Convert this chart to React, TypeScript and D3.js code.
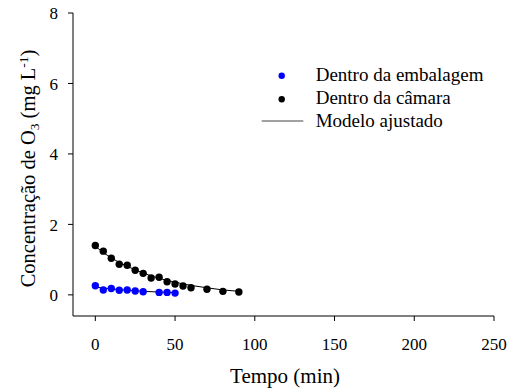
import React from "react";
import * as d3 from "d3";

const tempoCamara = [0, 5, 10, 15, 20, 25, 30, 35, 40, 45, 50, 55, 60, 70, 80, 90];
const o3Camara = [1.4, 1.24, 1.04, 0.87, 0.84, 0.7, 0.61, 0.48, 0.5, 0.37, 0.31, 0.25, 0.2, 0.16, 0.1, 0.08];

const tempoEmbalagem = [0, 5, 10, 15, 20, 25, 30, 40, 45, 50];
const o3Embalagem = [0.26, 0.14, 0.18, 0.13, 0.14, 0.11, 0.09, 0.07, 0.07, 0.05];

const modeloCamaraT = [0, 5, 10, 15, 20, 25, 30, 35, 40, 45, 50, 55, 60, 70, 80, 90];
const modeloCamaraY = [1.38, 1.2, 1.05, 0.92, 0.81, 0.71, 0.62, 0.54, 0.47, 0.41, 0.36, 0.31, 0.27, 0.2, 0.14, 0.1];

const modeloEmbT = [0, 10, 20, 30, 40, 50];
const modeloEmbY = [0.22, 0.17, 0.13, 0.1, 0.08, 0.06];

const xTicks = [0, 50, 100, 150, 200, 250];
const yTicks = [0, 2, 4, 6, 8];

const legendLabels = ["Dentro da embalagem", "Dentro da câmara", "Modelo ajustado"];

const ts = { fontFamily: "'Times New Roman', 'Liberation Serif', serif" };

export default function App() {
  const x = d3.scaleLinear().domain([-14, 250]).range([73, 494]);
  const y = d3.scaleLinear().domain([-0.6, 8]).range([316, 13]);
  const line = d3
    .line<[number, number]>()
    .x((d) => x(d[0]))
    .y((d) => y(d[1]));

  const camaraModel = modeloCamaraT.map((t, i) => [t, modeloCamaraY[i]] as [number, number]);
  const embModel = modeloEmbT.map((t, i) => [t, modeloEmbY[i]] as [number, number]);

  const [xMin, xMax] = x.range();
  const [yBottom, yTop] = y.range();

  return (
    <svg width={510} height={391} style={{ position: "absolute", left: 0, top: 0, background: "#fff" }}>
      <line x1={xMin} x2={xMin} y1={yTop} y2={yBottom} stroke="#000" strokeWidth={1} />
      <line x1={xMin} x2={xMax} y1={yBottom} y2={yBottom} stroke="#000" strokeWidth={1} />
      {yTicks.map((t) => (
        <g key={"y" + t}>
          <line x1={xMin - 5} x2={xMin} y1={y(t)} y2={y(t)} stroke="#000" />
          <text x={58} y={y(t)} dy="0.36em" textAnchor="end" fontSize={17} style={ts}>
            {t}
          </text>
        </g>
      ))}
      {xTicks.map((t) => (
        <g key={"x" + t}>
          <line x1={x(t)} x2={x(t)} y1={yBottom} y2={yBottom + 5} stroke="#000" />
          <text x={x(t)} y={350} textAnchor="middle" fontSize={17} style={ts}>
            {t}
          </text>
        </g>
      ))}
      <text x={285} y={383} textAnchor="middle" fontSize={21} style={ts}>
        Tempo (min)
      </text>
      <text transform="translate(35,168.5) rotate(-90)" textAnchor="middle" fontSize={20.5} style={ts}>
        Concentração de O<tspan fontSize={13.5} dy={4}>3</tspan>
        <tspan dy={-4}> (mg L</tspan>
        <tspan fontSize={13.5} dy={-7}>-1</tspan>
        <tspan dy={7}>)</tspan>
      </text>

      <path d={line(camaraModel) || ""} fill="none" stroke="#000" strokeWidth={1} />
      <path d={line(embModel) || ""} fill="none" stroke="#000" strokeWidth={1} />

      {tempoCamara.map((t, i) => (
        <circle key={"c" + i} cx={x(t)} cy={y(o3Camara[i])} r={3.7} fill="#000" />
      ))}
      {tempoEmbalagem.map((t, i) => (
        <circle key={"e" + i} cx={x(t)} cy={y(o3Embalagem[i])} r={3.7} fill="#0000ff" />
      ))}

      <circle cx={281.7} cy={75.7} r={3.2} fill="#0000ff" />
      <circle cx={281.7} cy={99.3} r={3.2} fill="#000" />
      <line x1={261.7} x2={303.3} y1={121} y2={121} stroke="#444" strokeWidth={1} />
      {legendLabels.map((l, i) => (
        <text key={l} x={315.7} y={80.5 + i * 23} fontSize={19} style={ts}>
          {l}
        </text>
      ))}
    </svg>
  );
}
